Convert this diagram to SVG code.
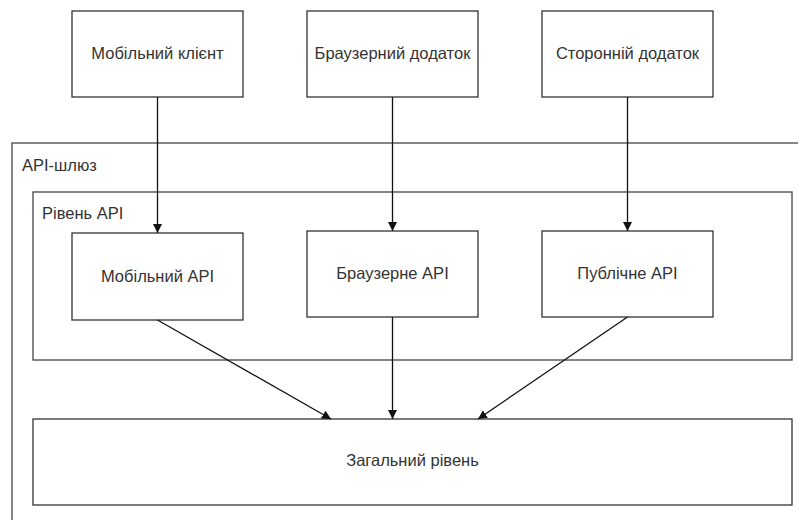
<svg xmlns="http://www.w3.org/2000/svg" width="798" height="520" viewBox="0 0 798 520">
<defs>
<marker id="ah" viewBox="0 0 10 10" refX="10" refY="5" markerWidth="9" markerHeight="9" markerUnits="userSpaceOnUse" orient="auto">
<path d="M0,0 L10,5 L0,10 Z" fill="#111"/>
</marker>
<style>
.box{fill:#fff;stroke:#333;stroke-width:1.3}
.cont{fill:none;stroke:#444;stroke-width:1.3}
.t{font-family:"Liberation Sans",Arial,sans-serif;font-size:16.5px;fill:#333;text-anchor:middle;dominant-baseline:central}
.tl{font-family:"Liberation Sans",Arial,sans-serif;font-size:16.5px;fill:#333}
.c{stroke:#111;stroke-width:1.3;fill:none;marker-end:url(#ah)}
</style>
</defs>
<rect width="798" height="520" fill="#fff"/>
<g id="gateway">
<rect class="cont" x="12" y="143" width="800" height="400"/>
<text class="tl" x="22" y="171">API-шлюз</text>
</g>
<g id="api-level">
<rect class="cont" x="33" y="192" width="759" height="168"/>
<text class="tl" x="42" y="219">Рівень API</text>
</g>
<g id="mobile-client">
<rect class="box" x="72" y="11" width="171" height="86"/>
<text class="t" x="157.5" y="53">Мобільний клієнт</text>
</g>
<g id="browser-app">
<rect class="box" x="307" y="11" width="171" height="86"/>
<text class="t" x="392.5" y="53">Браузерний додаток</text>
</g>
<g id="third-party-app">
<rect class="box" x="542" y="11" width="171" height="86"/>
<text class="t" x="627.5" y="53">Сторонній додаток</text>
</g>
<g id="mobile-api">
<rect class="box" x="72" y="233" width="171" height="87"/>
<text class="t" x="157.5" y="276">Мобільний API</text>
</g>
<g id="browser-api">
<rect class="box" x="307" y="231" width="171" height="86"/>
<text class="t" x="392.5" y="273">Браузерне API</text>
</g>
<g id="public-api">
<rect class="box" x="542" y="231" width="171" height="86"/>
<text class="t" x="627.5" y="273">Публічне API</text>
</g>
<g id="common-level">
<rect class="box" x="33" y="419" width="759" height="86"/>
<text class="t" x="412.5" y="460">Загальний рівень</text>
</g>
<g id="connectors">
<line class="c" x1="157.5" y1="97" x2="157.5" y2="233"/>
<line class="c" x1="392.5" y1="97" x2="392.5" y2="231"/>
<line class="c" x1="627.5" y1="97" x2="627.5" y2="231"/>
<line class="c" x1="157.5" y1="320" x2="331" y2="419"/>
<line class="c" x1="392.5" y1="317" x2="392.5" y2="419"/>
<line class="c" x1="627.5" y1="317" x2="478" y2="419"/>
</g>
</svg>
